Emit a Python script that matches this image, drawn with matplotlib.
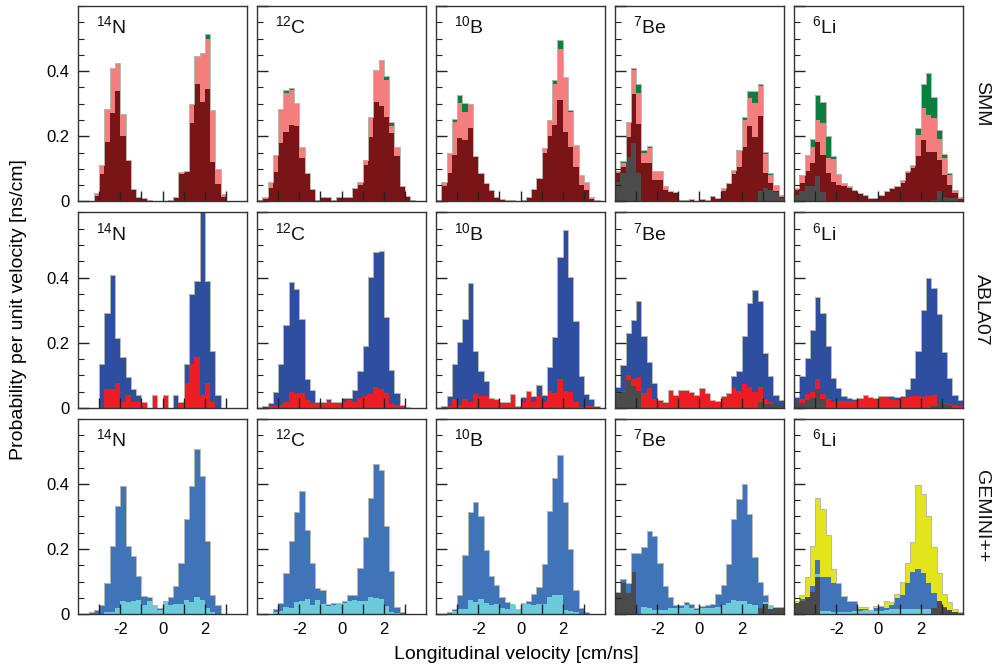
import numpy as np
import matplotlib
matplotlib.use("Agg")
import matplotlib.pyplot as plt
from matplotlib.ticker import MultipleLocator, FixedLocator

plt.rcParams['font.family'] = ['Liberation Sans', 'DejaVu Sans']
plt.rcParams['mathtext.fontset'] = 'custom'
plt.rcParams['mathtext.rm'] = 'Liberation Sans'
plt.rcParams['mathtext.default'] = 'regular'
plt.rcParams['axes.unicode_minus'] = False

# 32 bins of 0.25 cm/ns from -4 to 4
edges = np.arange(-4, 4.001, 0.25)

nuclei = ["$^{14}$N", "$^{12}$C", "$^{10}$B", "$^{7}$Be", "$^{6}$Li"]
models = ["SMM", "ABLA07", "GEMINI++"]

# ---- SMM: total (green), pink, dark red, grey ----
smm_14n_tot = [0, 0, 0, .026, .113, .284, .411, .424, .267, .126, .039, .015, .010, .005, 0, 0,
               0, .005, .015, .090, .094, .298, .446, .457, .515, .281, .100, .023, 0, 0, 0, 0]
smm_14n_pink = [0, 0, 0, .026, .113, .284, .411, .424, .267, .126, .039, .015, .010, .005, 0, 0,
                0, .005, .015, .090, .094, .298, .446, .457, .500, .281, .100, .023, 0, 0, 0, 0]
smm_14n_dark = [0, 0, 0, .017, .084, .181, .270, .340, .202, .126, .039, .015, .010, .005, 0, 0,
                0, .005, .015, .084, .089, .241, .361, .306, .344, .120, .053, .015, 0, 0, 0, 0]

smm_12c_tot = [.005, .015, .061, .143, .284, .342, .347, .301, .168, .087, .038, .005, .013, .013, .005, .013,
               .013, .013, .041, .061, .128, .260, .403, .434, .385, .243, .168, .046, .017, .005, 0, 0]
smm_12c_pink = [.005, .015, .061, .143, .284, .332, .342, .301, .168, .087, .038, .005, .013, .013, .005, .013,
                .013, .013, .041, .061, .128, .260, .400, .431, .372, .232, .168, .046, .017, .005, 0, 0]
smm_12c_dark = [.002, .008, .041, .090, .179, .214, .235, .232, .133, .087, .038, .005, .013, .013, .005, .013,
                .013, .013, .041, .051, .112, .199, .304, .293, .260, .211, .140, .046, .015, .005, 0, 0]

smm_10b_tot = [.005, .061, .148, .252, .327, .301, .298, .138, .087, .056, .034, .015, .007, .005, .005, 0,
               .005, .015, .038, .071, .163, .250, .372, .495, .383, .281, .173, .082, .061, .015, .005, 0]
smm_10b_pink = [.005, .061, .148, .245, .301, .276, .296, .138, .087, .056, .034, .015, .007, .005, .005, 0,
                .005, .015, .038, .071, .163, .250, .362, .469, .383, .276, .173, .082, .061, .015, .005, 0]
smm_10b_dark = [.005, .046, .087, .143, .194, .189, .226, .138, .087, .056, .034, .015, .007, .005, .005, 0,
                .005, .015, .036, .068, .150, .201, .235, .311, .212, .168, .107, .051, .034, .007, .005, 0]

smm_7be_tot = [.092, .125, .245, .410, .362, .158, .171, .092, .092, .048, .031, .028, .005, .005, .008, .002,
               .007, .005, .017, .010, .041, .058, .097, .158, .258, .339, .339, .362, .151, .087, .051, .020]
smm_7be_pink = [.092, .119, .240, .403, .333, .150, .163, .092, .092, .048, .031, .028, .005, .005, .008, .002,
                .007, .005, .017, .010, .041, .058, .097, .156, .250, .319, .301, .354, .145, .082, .051, .020]
smm_7be_dark = [.087, .107, .199, .330, .237, .117, .117, .066, .066, .036, .028, .028, .005, .005, .008, .002,
                .007, .005, .017, .010, .031, .056, .085, .107, .168, .232, .199, .262, .087, .056, .031, .015]
smm_7be_grey = [.061, .087, .136, .179, .087, 0, 0, 0, 0, 0, 0, 0, 0, 0, 0, 0,
                0, 0, 0, 0, 0, 0, 0, 0, 0, 0, 0, .031, .041, .036, .028, .010]

smm_6li_tot = [.041, .080, .143, .192, .328, .306, .201, .140, .085, .056, .046, .036, .026, .020, .012, .012,
               .020, .031, .041, .046, .066, .092, .112, .224, .362, .393, .320, .219, .145, .087, .036, .015]
smm_6li_pink = [.041, .077, .138, .168, .250, .240, .133, .130, .085, .056, .046, .036, .026, .020, .012, .012,
                .020, .031, .041, .046, .066, .092, .112, .204, .286, .265, .255, .191, .133, .082, .036, .015]
smm_6li_dark = [.036, .056, .092, .117, .181, .143, .087, .061, .051, .046, .041, .036, .026, .020, .012, .012,
                .020, .031, .041, .046, .056, .087, .102, .138, .189, .153, .153, .128, .082, .051, .026, .008]
smm_6li_grey = [.020, .031, .046, .046, .079, .028, 0, 0, 0, 0, 0, 0, 0, 0, 0, 0,
                0, 0, 0, 0, 0, 0, 0, 0, 0, 0, .005, .031, .015, .012, .010, 0]

# ---- ABLA07: total (blue), red, grey ----
abla_14n_tot = [0, 0, 0, 0, .135, .291, .407, .214, .155, .094, .058, .038, .017, 0, .038, 0,
                .038, 0, .038, .017, .135, .349, .388, .620, .388, .173, .038, 0, 0, 0, 0, 0]
abla_14n_red = [0, 0, 0, 0, 0, .058, .058, .077, .017, .038, .017, .017, .017, 0, .038, 0,
                .038, 0, 0, .017, .077, .135, .155, .038, .077, .017, 0, 0, 0, 0, 0, 0]

abla_12c_tot = [0, .005, .015, .048, .133, .255, .387, .364, .273, .087, .056, .019, .017, .028, .017, .017,
                .030, .030, .056, .114, .189, .401, .478, .481, .278, .116, .046, .009, .002, 0, 0, 0]
abla_12c_red = [0, 0, .005, .010, .010, .017, .050, .046, .046, .023, .015, .015, .017, .020, .017, .017,
                .017, .025, .017, .030, .036, .043, .064, .058, .046, .012, .009, .005, .002, 0, 0, 0]

abla_10b_tot = [0, .007, .036, .133, .201, .272, .383, .173, .112, .082, .030, .028, .017, .017, .043, .007,
                .033, .053, .036, .071, .040, .124, .218, .464, .546, .401, .265, .099, .043, .026, .007, 0]
abla_10b_red = [0, .007, .007, .026, .009, .028, .017, .043, .036, .036, .028, .026, .017, .017, .043, .002,
                .017, .053, .017, .036, .017, .053, .046, .089, .053, .048, .017, .002, .007, .007, 0, 0]

abla_7be_tot = [.064, .130, .230, .270, .329, .219, .140, .077, .023, .017, .056, .040, .055, .055, .050, .040,
                .060, .046, .023, .020, .036, .046, .097, .112, .219, .323, .362, .329, .168, .097, .040, .023]
abla_7be_red = [.048, .053, .101, .089, .094, .046, .060, .028, .017, .017, .056, .040, .055, .055, .050, .040,
                .060, .046, .023, .019, .033, .043, .060, .053, .073, .063, .048, .063, .028, .017, .012, .009]
abla_7be_grey = [.043, .048, .084, .068, .053, 0, 0, 0, 0, 0, 0, 0, 0, 0, 0, 0,
                 0, 0, 0, 0, 0, 0, 0, 0, 0, 0, 0, .017, .012, .012, .012, .009]

abla_6li_tot = [.033, .099, .153, .239, .339, .291, .189, .091, .060, .036, .030, .028, .030, .038, .033, .030,
                .036, .036, .036, .033, .036, .058, .092, .173, .301, .398, .367, .288, .170, .091, .040, .023]
abla_6li_red = [.017, .028, .041, .048, .087, .043, .028, .019, .022, .022, .022, .022, .026, .038, .033, .030,
                .033, .033, .028, .025, .030, .033, .035, .035, .033, .036, .040, .017, .015, .012, .009, .005]
abla_6li_grey = [.017, .015, .023, .030, .058, .028, 0, 0, 0, 0, 0, 0, 0, 0, 0, 0,
                 0, 0, 0, 0, 0, 0, 0, 0, 0, 0, .007, .017, .012, .009, 0, 0]

# ---- GEMINI++: yellow (6Li total), blue, cyan, grey ----
gem_14n_blue = [0, 0, .006, .013, .029, .097, .210, .332, .393, .210, .179, .117, .056, .052, .029, .019,
                .039, .052, .085, .156, .292, .393, .506, .424, .226, .059, .029, 0, 0, 0, 0, 0]
gem_14n_cyan = [0, 0, 0, 0, 0, .006, .006, .018, .041, .037, .041, .044, .027, .039, .024, .013,
                .037, .029, .032, .032, .044, .037, .052, .044, .018, .008, 0, 0, 0, 0, 0, 0]

gem_12c_blue = [0, 0, 0, .015, .033, .126, .224, .313, .377, .257, .158, .079, .075, .031, .033, .033,
                .041, .058, .058, .142, .237, .356, .461, .443, .272, .133, .023, .007, 0, 0, 0, 0]
gem_12c_cyan = [0, 0, 0, .007, .009, .022, .019, .038, .040, .046, .028, .043, .030, .024, .028, .033,
                .033, .040, .043, .040, .040, .053, .051, .046, .026, .007, .004, 0, 0, 0, 0, 0]

gem_10b_blue = [0, 0, .007, .017, .060, .181, .313, .344, .301, .196, .117, .089, .053, .038, .028, .017,
                .033, .040, .063, .084, .155, .318, .417, .490, .344, .201, .074, .019, .007, 0, 0, 0]
gem_10b_cyan = [0, 0, 0, .010, .017, .017, .043, .036, .048, .033, .028, .030, .019, .017, .030, .017,
                .033, .031, .028, .031, .030, .053, .060, .060, .012, .009, .007, 0, 0, 0, 0, 0]

gem_7be_blue = [.069, .107, .095, .187, .187, .207, .255, .240, .156, .085, .052, .027, .029, .037, .032, .018,
                .026, .029, .032, .062, .090, .153, .292, .355, .399, .309, .176, .098, .059, .029, .023, .023]
gem_7be_cyan = [0, 0, 0, 0, 0, .023, .018, .013, .013, .013, .018, .018, .018, .027, .018, .013,
                .018, .018, .018, .022, .027, .034, .044, .041, .041, .032, .029, .015, .037, .029, 0, 0]
gem_7be_grey = [.069, .095, .064, .128, 0, 0, 0, 0, 0, 0, 0, 0, 0, 0, 0, 0,
                0, 0, 0, 0, 0, 0, 0, 0, 0, 0, 0, .018, .032, .016, .018, .023]

gem_6li_yel = [.039, .059, .113, .210, .357, .322, .243, .138, .097, .056, .039, .041, .023, .021, .013, .025,
               .025, .039, .036, .061, .100, .158, .222, .395, .370, .301, .205, .125, .062, .036, .015, .008]
gem_6li_blue = [.034, .047, .054, .085, .166, .113, .113, .097, .095, .054, .036, .037, .015, .016, .013, .018,
                .024, .018, .029, .049, .059, .097, .130, .140, .125, .097, .066, .039, .023, .011, .006, .006]
gem_6li_cyan = [.005, .008, .010, .012, .123, .010, .010, .008, .008, .008, .006, .010, .010, .012, .010, .010,
                .010, .013, .015, .015, .015, .015, .015, .015, .015, .015, .018, .015, .012, .008, .005, 0]
gem_6li_grey = [.034, .039, .054, .069, .115, 0, 0, 0, 0, 0, 0, 0, 0, 0, 0, 0,
                0, 0, 0, 0, 0, 0, 0, 0, 0, 0, .018, .039, .018, .013, .008, 0]

# colours
c_green, c_pink, c_dark, c_grey = "#0b7f3f", "#f27f7d", "#7a1517", "#4b4b4b"
c_ablue, c_red = "#2e4f9f", "#ec1e24"
c_gblue, c_cyan, c_yel = "#3f74b9", "#6ccbda", "#e4e41c"

# layers drawn back to front for each panel
panels = [
    [[(smm_14n_tot, c_green), (smm_14n_pink, c_pink), (smm_14n_dark, c_dark)],
     [(smm_12c_tot, c_green), (smm_12c_pink, c_pink), (smm_12c_dark, c_dark)],
     [(smm_10b_tot, c_green), (smm_10b_pink, c_pink), (smm_10b_dark, c_dark)],
     [(smm_7be_tot, c_green), (smm_7be_pink, c_pink), (smm_7be_dark, c_dark), (smm_7be_grey, c_grey)],
     [(smm_6li_tot, c_green), (smm_6li_pink, c_pink), (smm_6li_dark, c_dark), (smm_6li_grey, c_grey)]],
    [[(abla_14n_tot, c_ablue), (abla_14n_red, c_red)],
     [(abla_12c_tot, c_ablue), (abla_12c_red, c_red)],
     [(abla_10b_tot, c_ablue), (abla_10b_red, c_red)],
     [(abla_7be_tot, c_ablue), (abla_7be_red, c_red), (abla_7be_grey, c_grey)],
     [(abla_6li_tot, c_ablue), (abla_6li_red, c_red), (abla_6li_grey, c_grey)]],
    [[(gem_14n_blue, c_gblue), (gem_14n_cyan, c_cyan)],
     [(gem_12c_blue, c_gblue), (gem_12c_cyan, c_cyan)],
     [(gem_10b_blue, c_gblue), (gem_10b_cyan, c_cyan)],
     [(gem_7be_blue, c_gblue), (gem_7be_cyan, c_cyan), (gem_7be_grey, c_grey)],
     [(gem_6li_yel, c_yel), (gem_6li_blue, c_gblue), (gem_6li_cyan, c_cyan), (gem_6li_grey, c_grey)]],
]

fig, axes = plt.subplots(3, 5, figsize=(10.01, 6.69), dpi=100)
fig.subplots_adjust(left=0.078, right=0.962, top=0.991, bottom=0.082, wspace=0.059, hspace=0.056)

for r in range(3):
    for c in range(5):
        ax = axes[r, c]
        layers = panels[r][c]
        for vals, col in layers:
            ax.stairs(vals, edges, fill=True, color=col, lw=0)
        # thin light outline around the outermost histogram
        ax.stairs(layers[0][0], edges, color="#b8b8b0", lw=0.7)

        ax.set_xlim(-4, 4)
        ax.set_ylim(0, 0.6)
        for s in ax.spines.values():
            s.set_color("#333333")
            s.set_linewidth(1.0)
        ax.xaxis.set_major_locator(FixedLocator([-3, -2, -1, 0, 1, 2, 3]))
        ax.yaxis.set_major_locator(MultipleLocator(0.2))
        ax.yaxis.set_minor_locator(MultipleLocator(0.05))
        ax.tick_params(axis="x", which="major", direction="in", length=7, width=1.0,
                       color="#222222", labelsize=12, pad=6, top=False)
        ax.tick_params(axis="y", which="major", direction="in", length=8, width=1.0,
                       color="#222222", labelsize=12, pad=6, right=False)
        ax.tick_params(axis="y", which="minor", direction="in", length=4, width=0.8,
                       color="#222222", right=False)
        ax.tick_params(axis="x", which="minor", bottom=False)

        if r == 2:
            ax.set_xticklabels(["", "-2", "", "0", "", "2", ""])
        else:
            ax.set_xticklabels([])
        if c == 0:
            ax.set_yticks([0, 0.2, 0.4])
            ax.set_yticklabels(["0", "0.2", "0.4"])
        else:
            ax.set_yticklabels([])

        ax.text(0.105, 0.86, nuclei[c], transform=ax.transAxes, fontsize=14,
                ha="left", va="baseline", color="#111111")

    axes[r, 4].text(1.11, 0.5, models[r], transform=axes[r, 4].transAxes, rotation=-90,
                    fontsize=14, ha="center", va="center", color="#111111")

fig.text(0.018, 0.537, "Probability per unit velocity [ns/cm]", rotation=90,
         fontsize=14, ha="center", va="center")
fig.text(0.516, 0.021, "Longitudinal velocity [cm/ns]", fontsize=14, ha="center", va="center")

fig.savefig("out.png", dpi=100)
